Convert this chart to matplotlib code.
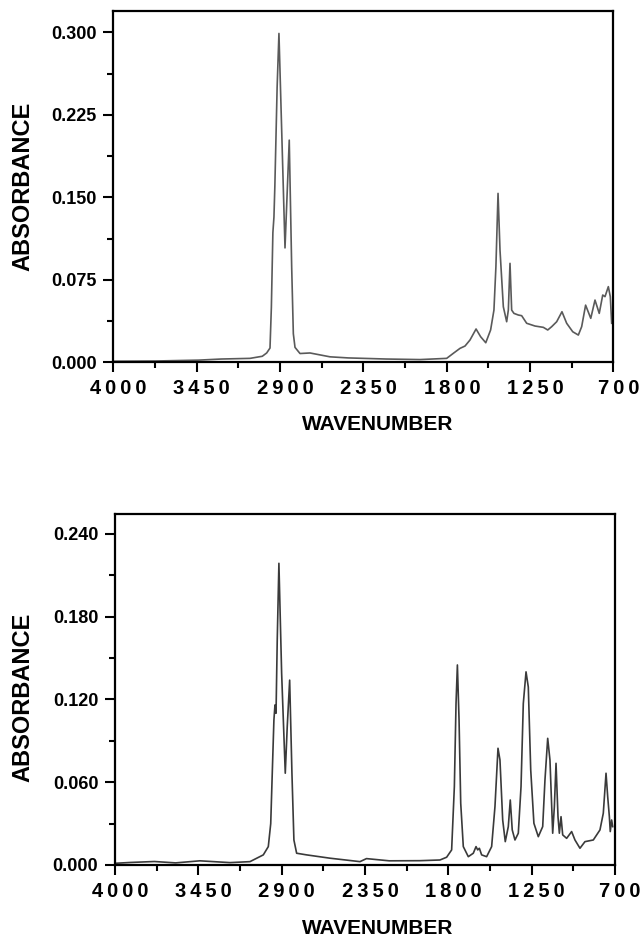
import matplotlib
matplotlib.use('Agg')
import matplotlib.pyplot as plt
from matplotlib.transforms import ScaledTranslation

# Spectrum 1: wavenumber (cm-1) and absorbance
top_wn = [4000, 3721, 3437, 3289, 3099, 3018, 2989, 2967, 2958, 2948, 2941, 2935,
          2920, 2908, 2868, 2840, 2824, 2813, 2802, 2769, 2703, 2571, 2450, 2200,
          1977, 1801, 1757, 1713, 1680, 1647, 1607, 1577, 1543, 1511, 1489, 1476,
          1462, 1449, 1427, 1405, 1394, 1383, 1372, 1357, 1328, 1306, 1273, 1218,
          1163, 1134, 1108, 1075, 1040, 1009, 969, 932, 910, 884, 850, 822, 794,
          771, 756, 734, 721, 712]
top_abs = [0.001, 0.0012, 0.002, 0.003, 0.0036, 0.0055, 0.0085, 0.013, 0.05, 0.118, 0.132, 0.16,
           0.25, 0.299, 0.104, 0.202, 0.087, 0.026, 0.0136, 0.008, 0.0085, 0.005, 0.004, 0.003,
           0.0025, 0.0036, 0.0082, 0.0127, 0.0148, 0.0203, 0.0303, 0.0233, 0.0178, 0.0294, 0.0475, 0.0869,
           0.1536, 0.102, 0.0505, 0.0369, 0.0475, 0.09, 0.0475, 0.0445, 0.043, 0.0424, 0.0355, 0.033,
           0.0318, 0.0294, 0.0324, 0.0369, 0.046, 0.0355, 0.0278, 0.0248, 0.0324, 0.052, 0.04, 0.0566, 0.0445,
           0.0612, 0.0597, 0.0688, 0.0597, 0.0355]

# Spectrum 2
bot_wn = [4000, 3900, 3740, 3600, 3440, 3241, 3109, 3021, 2988, 2972, 2962, 2951,
          2944, 2937, 2929, 2918, 2900, 2876, 2863, 2847, 2832, 2819, 2801, 2735,
          2581, 2383, 2340, 2190, 1987, 1855, 1811, 1778, 1760, 1749, 1740, 1729,
          1718, 1701, 1668, 1635, 1617, 1606, 1595, 1580, 1547, 1514, 1492, 1472,
          1459, 1441, 1424, 1404, 1391, 1378, 1360, 1338, 1320, 1305, 1287, 1272,
          1256, 1235, 1206, 1177, 1162, 1144, 1129, 1111, 1100, 1089, 1076, 1067,
          1056, 1045, 1019, 986, 964, 931, 898, 843, 799, 777, 759, 748, 737, 731,
          722, 715]
bot_abs = [0.0012, 0.0018, 0.0025, 0.0015, 0.003, 0.0017, 0.0024, 0.0073, 0.0133, 0.030, 0.066, 0.105,
           0.116, 0.11, 0.163, 0.2187, 0.139, 0.0665, 0.1003, 0.134, 0.0665, 0.0181, 0.0085, 0.0073,
           0.0049, 0.0024, 0.0046, 0.003, 0.0031, 0.0036, 0.0056, 0.0109, 0.0568, 0.117, 0.145, 0.105,
           0.0447, 0.0133, 0.006, 0.0085, 0.0133, 0.0109, 0.0121, 0.0073, 0.006, 0.0133, 0.0423, 0.0846,
           0.0761, 0.0326, 0.0169, 0.0278, 0.0471, 0.0254, 0.0181, 0.023, 0.0568, 0.117, 0.140, 0.129,
           0.0689, 0.0302, 0.0205, 0.0278, 0.0616, 0.0918, 0.0761, 0.023, 0.0423, 0.0737, 0.035, 0.023,
           0.035, 0.0218, 0.0193, 0.0242, 0.0181, 0.0121, 0.0169, 0.0181, 0.0254, 0.0375, 0.0665, 0.0495, 0.035, 0.0242,
           0.0326, 0.0278]

wn_ticks = [4000, 3450, 2900, 2350, 1800, 1250, 700]
top_yticks = [0.000, 0.075, 0.150, 0.225, 0.300]
bot_yticks = [0.000, 0.060, 0.120, 0.180, 0.240]

fonts = ['Liberation Sans', 'DejaVu Sans']

fig = plt.figure(figsize=(6.43, 9.48), dpi=100)


def spectrum(rect, wn, ab, yticks, ymax, color, ylab_y, xlab_y):
    ax = fig.add_axes(rect)
    ax.plot(wn, ab, color=color, lw=1.2)
    ax.set_xlim(4000, 700)
    ax.set_ylim(0, ymax)

    # spaced-out digits on the wavenumber axis
    ax.set_xticks(wn_ticks)
    ax.set_xticklabels(['\u2009'.join(str(v)) for v in wn_ticks],
                       family=fonts, fontweight='bold', fontsize=14.5)
    ax.set_xticks([(a + b) / 2 for a, b in zip(wn_ticks[:-1], wn_ticks[1:])], minor=True)
    ax.set_yticks(yticks)
    ax.set_yticklabels(['%.3f' % v for v in yticks],
                       family=fonts, fontweight='bold', fontsize=13)
    ax.set_yticks([(a + b) / 2 for a, b in zip(yticks[:-1], yticks[1:])], minor=True)

    ax.tick_params(which='major', direction='out', length=7, width=1.5)
    ax.tick_params(which='minor', direction='out', length=4.5, width=1.5)
    ax.tick_params(axis='x', which='major', pad=5)
    ax.tick_params(axis='y', which='major', pad=5)
    for s in ax.spines.values():
        s.set_linewidth(1.6)

    # labels sit a little right of their ticks
    shift = ScaledTranslation(5 / 100, 0, fig.dpi_scale_trans)
    for lab in ax.get_xticklabels():
        lab.set_transform(lab.get_transform() + shift)

    fig.text(0.035, ylab_y, 'ABSORBANCE', rotation=90, ha='center', va='center',
             family=fonts, fontweight='bold', fontsize=17)
    fig.text(0.588, xlab_y, 'WAVENUMBER', ha='center', va='center',
             family=fonts, fontweight='bold', fontsize=15)
    return ax


spectrum([0.1765, 0.6178, 0.7776, 0.3706], top_wn, top_abs, top_yticks, 0.3194,
         '#5a5a5a', 0.8033, 0.5522)
spectrum([0.1788, 0.0876, 0.7776, 0.3703], bot_wn, bot_abs, bot_yticks, 0.2545,
         '#3a3a3a', 0.2648, 0.0206)

fig.savefig('out.png', dpi=100)
